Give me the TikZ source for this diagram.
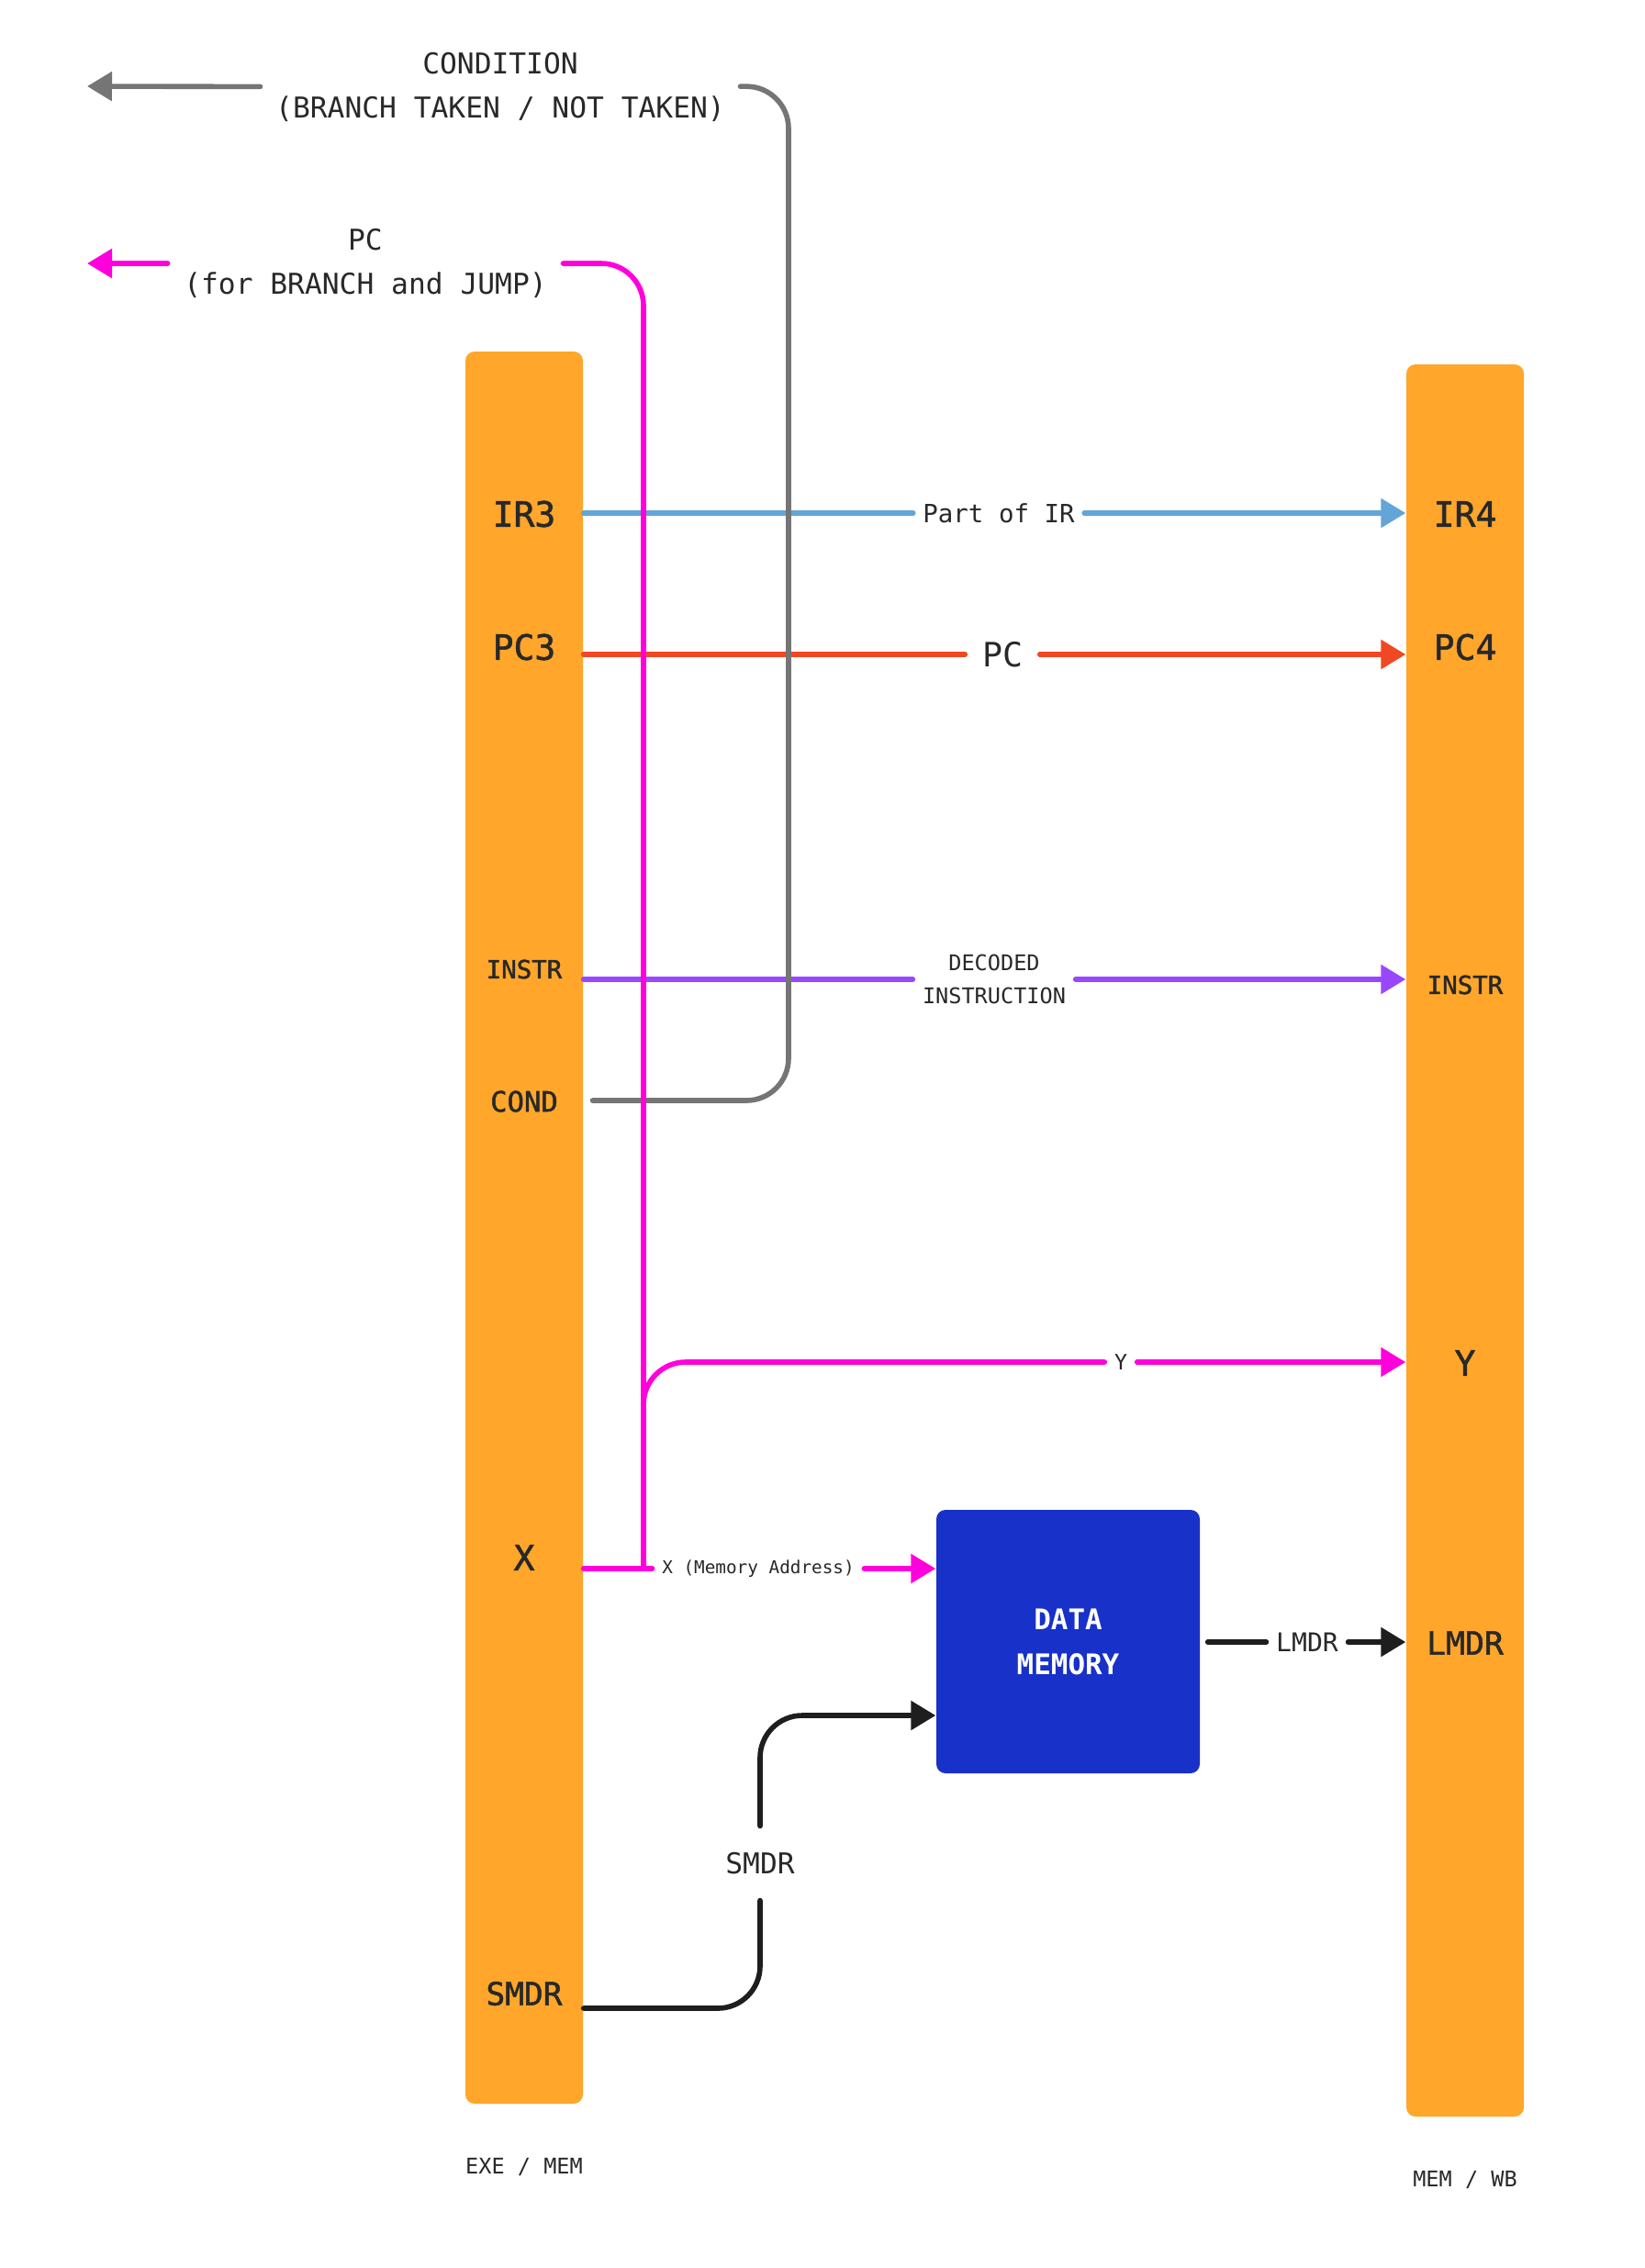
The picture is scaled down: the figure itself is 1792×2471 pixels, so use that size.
\documentclass[tikz,border=0pt]{standalone}
\usepackage{fontspec}
\setmainfont{DejaVu Sans Mono}
\newfontfamily\regfont[FakeBold=1.5]{DejaVu Sans Mono}
\usetikzlibrary{arrows.meta, positioning}

\definecolor{latchorange}{RGB}{255,166,43}
\definecolor{irblue}{RGB}{99,165,214}
\definecolor{pcred}{RGB}{240,72,35}
\definecolor{instrpurple}{RGB}{153,71,255}
\definecolor{xmagenta}{RGB}{255,0,221}
\definecolor{condgray}{RGB}{117,117,117}
\definecolor{wireblack}{RGB}{30,30,30}
\definecolor{memblue}{RGB}{23,49,201}
\definecolor{textdark}{RGB}{40,40,40}

\begin{document}
\begin{tikzpicture}[x=0.1mm, y=-0.1mm, line cap=round, >={Triangle[length=2.7mm, width=3.1mm]}]
    % Define node styles
    \tikzstyle{latch} = [rectangle, rounded corners=1mm, fill=latchorange, minimum width=12.8mm, minimum height=190.9mm, inner sep=0]
    \tikzstyle{reg} = [text=textdark, inner sep=0, execute at begin node=\regfont]
    \tikzstyle{lbl} = [text=textdark, inner xsep=1mm, inner ysep=0.5mm, align=center]
    \tikzstyle{wire} = [line width=1.6pt, rounded corners=4.6mm]
    \tikzstyle{fbig} = [font=\fontsize{10.8pt}{13pt}\selectfont]
    \tikzstyle{fmid} = [font=\fontsize{8.9pt}{13.9pt}\selectfont]
    \tikzstyle{fsmall} = [font=\fontsize{7.8pt}{10pt}\selectfont]
    \tikzstyle{ftiny} = [font=\fontsize{6.7pt}{10.2pt}\selectfont]

    \useasboundingbox (0,0) rectangle (1792,2471);

    % Pipeline latches
    \node[latch] (exemem) at (571,1337.5) {};
    \node[latch] (memwb) at (1596,1351.5) {};
    \node[ftiny, text=textdark, below=4.6mm of exemem] {EXE / MEM};
    \node[ftiny, text=textdark, below=4.6mm of memwb] {MEM / WB};

    % Data memory
    \node[rectangle, rounded corners=1mm, fill=memblue, minimum size=28.7mm, text=white, align=center,
          font=\bfseries\fontsize{8.8pt}{13.9pt}\selectfont] (dmem) at (1163.5,1788.5) {DATA\\MEMORY};

    % Registers in EXE/MEM
    \node[reg, fbig] (ir3) at (571,560) {IR3};
    \node[reg, fbig] (pc3) at (571,705) {PC3};
    \node[reg, fsmall] (instr3) at (571,1056) {INSTR};
    \node[reg, font=\fontsize{8.7pt}{10pt}\selectfont] (cond) at (571,1200) {COND};
    \node[reg, fbig] (xreg) at (571,1697) {X};
    \node[reg, font=\fontsize{9.8pt}{12pt}\selectfont] (smdr) at (571,2172) {SMDR};

    % Registers in MEM/WB
    \node[reg, fbig] (ir4) at (1596,560) {IR4};
    \node[reg, fbig] (pc4) at (1596,705) {PC4};
    \node[reg, fsmall] (instr4) at (1596,1073) {INSTR};
    \node[reg, fbig] (yreg) at (1596,1485) {Y};
    \node[reg, font=\fontsize{9.9pt}{12pt}\selectfont] (lmdr) at (1596,1790) {LMDR};

    % Wire labels
    \node[lbl, fsmall] (partir) at (1088,559) {Part of IR};
    \node[lbl, font=\fontsize{10.4pt}{12pt}\selectfont, inner xsep=1.8mm] (pcmid) at (1092,713) {PC};
    \node[lbl, ftiny] (decoded) at (1083,1067) {DECODED\\INSTRUCTION};
    \node[lbl, font=\fontsize{6.6pt}{8pt}\selectfont] (ymid) at (1221,1484) {Y};
    \node[lbl, font=\fontsize{5.5pt}{7pt}\selectfont] (xaddr) at (826,1709) {X (Memory Address)};
    \node[lbl, font=\fontsize{8pt}{10pt}\selectfont] (lmdrmid) at (1424,1789) {LMDR};
    \node[lbl, fmid, inner ysep=2.8mm] (smdrmid) at (828,2030) {SMDR};
    \node[lbl, fmid, inner xsep=1.6mm] (condlbl) at (545,95) {CONDITION\\(BRANCH TAKEN / NOT TAKEN)};
    \node[lbl, fmid, inner xsep=1.7mm] (pcback) at (398,287) {PC\\(for BRANCH and JUMP)};

    \coordinate (condout) at (95,94);
    \coordinate (pcout) at (95,287);
    \coordinate (xjoin) at (701,1709);

    % Straight transfers
    \draw[wire, irblue] (exemem.east |- partir) -- (partir);
    \draw[wire, irblue, ->] (partir) -- (memwb.west |- partir);
    \draw[wire, pcred] (exemem.east |- pcmid) -- (pcmid);
    \draw[wire, pcred, ->] (pcmid) -- (memwb.west |- pcmid);
    \draw[wire, instrpurple] (exemem.east |- decoded) -- (decoded);
    \draw[wire, instrpurple, ->] (decoded) -- (memwb.west |- decoded);

    % Condition back to fetch
    \draw[wire, condgray] ([xshift=3.7mm]cond.east |- 0,1199) -| (859,94) -- (condlbl);
    \draw[wire, condgray, ->] (condlbl) -- (condout);

    % ALU result X
    \draw[wire, xmagenta] (xjoin) |- (pcback);
    \draw[wire, xmagenta, ->] (pcback) -- (pcout);
    \draw[wire, xmagenta] (xjoin) |- (ymid);
    \draw[wire, xmagenta, ->] (ymid) -- (memwb.west |- ymid);
    \draw[wire, xmagenta] (exemem.east |- xaddr) -- (xaddr);
    \draw[wire, xmagenta, ->] (xaddr) -- (dmem.west |- xaddr);

    % Memory data
    \draw[wire, wireblack] ([xshift=0.8mm]dmem.east |- lmdrmid) -- (lmdrmid);
    \draw[wire, wireblack, ->] (lmdrmid) -- (memwb.west |- lmdrmid);
    \draw[wire, wireblack] (exemem.east |- 0,2188) -| (smdrmid);
    \draw[wire, wireblack, ->] (smdrmid) |- (dmem.west |- 0,1869);
\end{tikzpicture}
\end{document}
